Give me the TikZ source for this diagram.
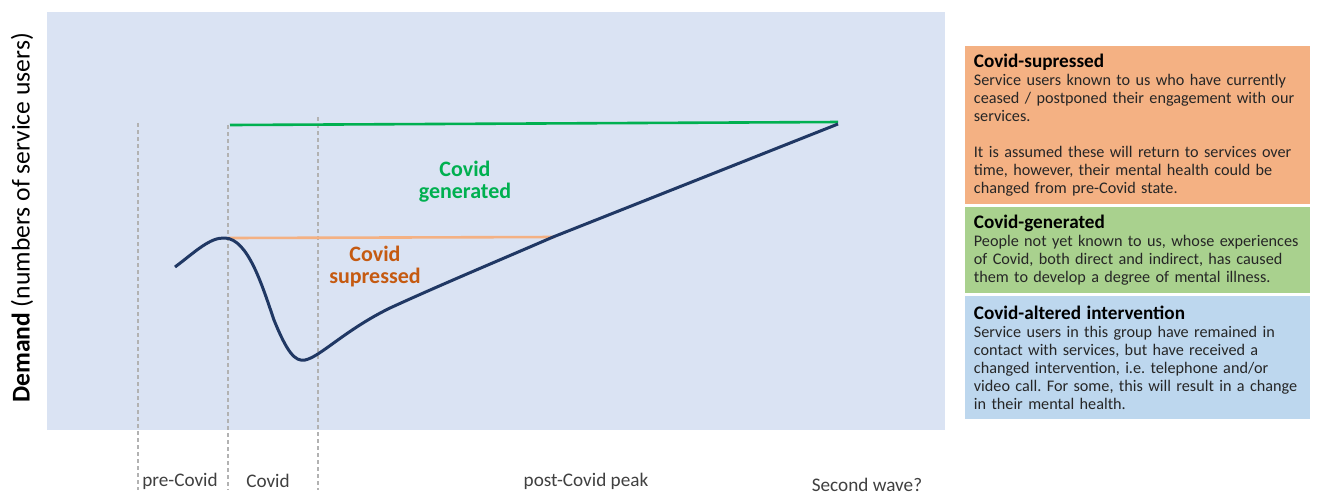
\documentclass[tikz,border=0pt]{standalone}
\usepackage{fontspec}
\setmainfont{Carlito}
\usetikzlibrary{positioning}
\definecolor{panelblue}{HTML}{DAE3F3}
\definecolor{curvenavy}{HTML}{203864}
\definecolor{gengreen}{HTML}{00B050}
\definecolor{supline}{HTML}{F4B183}
\definecolor{suptext}{HTML}{C55A11}
\definecolor{boxorange}{HTML}{F4B183}
\definecolor{boxgreen}{HTML}{A9D18E}
\definecolor{boxblue}{HTML}{BDD7EE}
\newcommand{\keyhead}[1]{{\fontsize{9.6}{10}\selectfont\bfseries\color{black}#1}}
\frenchspacing

\begin{document}
\begin{tikzpicture}[x=0.5pt,y=-0.5pt,
  phase/.style={draw=gray!60,dash pattern=on 2pt off 1.5pt,line width=0.6pt},
  phaselabel/.style={text=black!75,font=\fontsize{9.6}{10}\selectfont},
  keybox/.style={rectangle,anchor=north west,text width=164pt,inner xsep=4.25pt,inner ysep=0pt,
    align=left,text=black!85,font=\fontsize{8.1}{9}\selectfont}]
  \useasboundingbox (0,0) rectangle (1318,495);
  \fill[panelblue] (47,12) rectangle (945,430);
  \node[rotate=90,font=\fontsize{12.8}{14}\selectfont] (demand) at (22,218) {\textbf{Demand} (numbers of service users)};
  \draw[phase] (138,123) -- (138,490);
  \draw[phase] (228,125) -- (228,490);
  \draw[phase] (318,117) -- (318,490);
  \draw[gengreen,line width=1.3pt] (230,125) -- (838,122);
  \draw[supline,line width=1.3pt] (228,238) -- (555,237);
  \draw[curvenavy,line width=1.5pt] (175,267) .. controls (195,252) and (210,237) .. (225,238)
    .. controls (248,239) and (262,285) .. (274,320) .. controls (287,352) and (295,362) .. (305,360)
    .. controls (320,357) and (345,330) .. (390,308) .. controls (440,285) and (500,260) .. (553,237)
    -- (838,124);
  \node[text=gengreen,align=center,font=\fontsize{11}{11}\selectfont\bfseries] (gen) at (465,182) {Covid\\generated};
  \node[text=suptext,align=center,font=\fontsize{11}{11}\selectfont\bfseries] (sup) at (375,266) {Covid\\supressed};
  \node[phaselabel] (pre) at (180,481) {pre-Covid};
  \node[phaselabel] (during) at (268,481) {Covid};
  \node[phaselabel] (post) at (586,481) {post-Covid peak};
  \node[phaselabel] (second) at (867,485) {Second wave?};
  \node[keybox,fill=boxorange,minimum height=79pt] (supbox) at (965,46) {\keyhead{Covid-supressed}\\
    Service users known to us who have currently\\ ceased / postponed their engagement with our\\ services.\\[9pt]
    It is assumed these will return to services over\\ time, however, their mental health could be\\ changed from pre-Covid state.};
  \node[keybox,fill=boxgreen,minimum height=43pt,below=1pt of supbox.south west,anchor=north west] (genbox) {\keyhead{Covid-generated}\\
    People not yet known to us, whose experiences\\ of Covid, both direct and indirect, has caused\\ them to develop a degree of mental illness.};
  \node[keybox,fill=boxblue,minimum height=61.5pt,below=1pt of genbox.south west,anchor=north west] (altbox) {\keyhead{Covid-altered intervention}\\
    Service users in this group have remained in\\ contact with services, but have received a\\ changed intervention, i.e. telephone and/or\\ video call. For some, this will result in a change\\ in their mental health.};
\end{tikzpicture}
\end{document}
